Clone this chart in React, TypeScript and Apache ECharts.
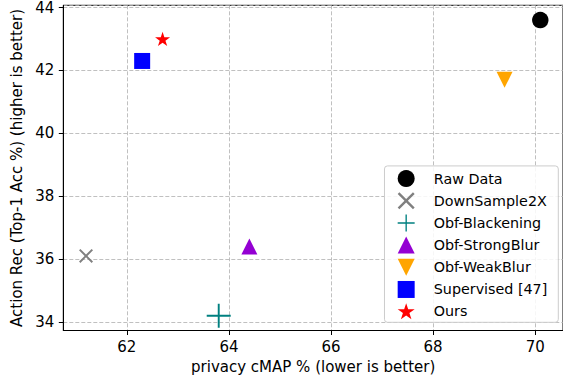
import React, { useEffect, useRef } from "react";
import * as echarts from "echarts";

const methods = [
  "Raw Data",
  "DownSample2X",
  "Obf-Blackening",
  "Obf-StrongBlur",
  "Obf-WeakBlur",
  "Supervised [47]",
  "Ours",
];
const privacyCMAP = [70.1, 61.2, 63.8, 64.4, 69.4, 62.3, 62.7];
const actionAcc = [43.6, 36.1, 34.2, 36.4, 41.7, 42.3, 43.0];
const colors = ["#000000", "#808080", "#008080", "#9400D3", "#FFA500", "#0000FF", "#FF0000"];

const xTicks = [62, 64, 66, 68, 70];
const yTicks = [34, 36, 38, 40, 42, 44];

const d = 2;
const X_PATH = `path://M0,${d} L${d},0 L10,${10 - d} L${20 - d},0 L20,${d} L${10 + d},10 L20,${20 - d} L${20 - d},20 L10,${10 + d} L${d},20 L0,${20 - d} L${10 - d},10 Z`;
const PLUS_PATH = "path://M9.2,0 L10.8,0 L10.8,9.2 L20,9.2 L20,10.8 L10.8,10.8 L10.8,20 L9.2,20 L9.2,10.8 L0,10.8 L0,9.2 L9.2,9.2 Z";
const UP_PATH = "path://M10,0 L20,20 L0,20 Z";
const DOWN_PATH = "path://M0,0 L20,0 L10,20 Z";
const STAR_PATH = "path://M10,0 L12.245,6.91 L19.511,6.91 L13.633,11.18 L15.878,18.09 L10,13.82 L4.122,18.09 L6.367,11.18 L0.489,6.91 L7.755,6.91 Z";

const symbols = ["circle", X_PATH, PLUS_PATH, UP_PATH, DOWN_PATH, "rect", STAR_PATH];
const sizes = [16.5, 14, 24, 16, 16, 16, 15];

const FONT = "DejaVu Sans";

export default function App() {
  const ref = useRef<HTMLDivElement>(null);
  useEffect(() => {
    if (!ref.current) return;
    const chart = echarts.init(ref.current, null, { renderer: "svg" });
    const isTick = (v: number, ticks: number[]) => ticks.some((t) => Math.abs(t - v) < 1e-6);
    chart.setOption({
      animation: false,
      backgroundColor: "#ffffff",
      grid: {
        left: 63.3,
        right: -1.6,
        top: 4.5,
        bottom: 50.5,
        show: true,
        borderColor: "#000000",
        borderWidth: 1,
        backgroundColor: "transparent",
      },
      xAxis: {
        type: "value",
        min: 60.755,
        max: 70.545,
        splitNumber: 5,
        name: "privacy cMAP % (lower is better)",
        nameLocation: "middle",
        nameGap: 28.5,
        nameTextStyle: { fontFamily: FONT, fontSize: 15, color: "#000" },
        axisLine: { show: true, onZero: false, lineStyle: { color: "#000", width: 1 } },
        axisTick: { show: true, length: 4.5, lineStyle: { color: "#000" } },
        axisLabel: {
          showMinLabel: false,
          showMaxLabel: false,
          margin: 8.5,
          fontFamily: FONT,
          fontSize: 15,
          color: "#000",
          formatter: (v: number) => (isTick(v, xTicks) ? String(v) : ""),
        },
        splitLine: { show: true, lineStyle: { color: "#b0b0b0", type: [4, 2], width: 0.8 } },
      },
      yAxis: {
        type: "value",
        min: 33.73,
        max: 44.07,
        splitNumber: 5,
        name: "Action Rec (Top-1 Acc %) (higher is better)",
        nameLocation: "middle",
        nameGap: 35.5,
        nameTextStyle: { fontFamily: FONT, fontSize: 15, color: "#000" },
        axisLine: { show: true, onZero: false, lineStyle: { color: "#000", width: 1 } },
        axisTick: { show: true, length: 4.5, lineStyle: { color: "#000" } },
        axisLabel: {
          showMinLabel: false,
          showMaxLabel: false,
          margin: 9,
          fontFamily: FONT,
          fontSize: 15,
          color: "#000",
          formatter: (v: number) => (isTick(v, yTicks) ? String(v) : ""),
        },
        splitLine: { show: true, lineStyle: { color: "#b0b0b0", type: [4, 2], width: 0.8 } },
      },
      legend: {
        orient: "vertical",
        right: 4.7,
        bottom: 58.7,
        padding: [4.2, 11, 3, 13.2],
        itemWidth: 17,
        itemHeight: 17,
        itemGap: 5.17,
        backgroundColor: "rgba(255,255,255,0.85)",
        borderColor: "#cccccc",
        borderWidth: 1,
        borderRadius: 3,
        textStyle: { fontFamily: FONT, fontSize: 14.3, color: "#000", padding: [0, 0, 0, 14.1] },
        data: methods.map((m, i) => ({ name: m, icon: symbols[i] })),
      },
      series: methods.map((m, i) => ({
        name: m,
        type: "scatter",
        symbol: symbols[i],
        symbolSize: sizes[i],
        symbolKeepAspect: true,
        itemStyle: { color: colors[i], opacity: 1 },
        data: [[privacyCMAP[i], actionAcc[i]]],
        z: 3,
      })),
    });
    return () => chart.dispose();
  }, []);
  return <div ref={ref} style={{ width: 563, height: 381, position: "absolute", left: 0, top: 0 }} />;
}
